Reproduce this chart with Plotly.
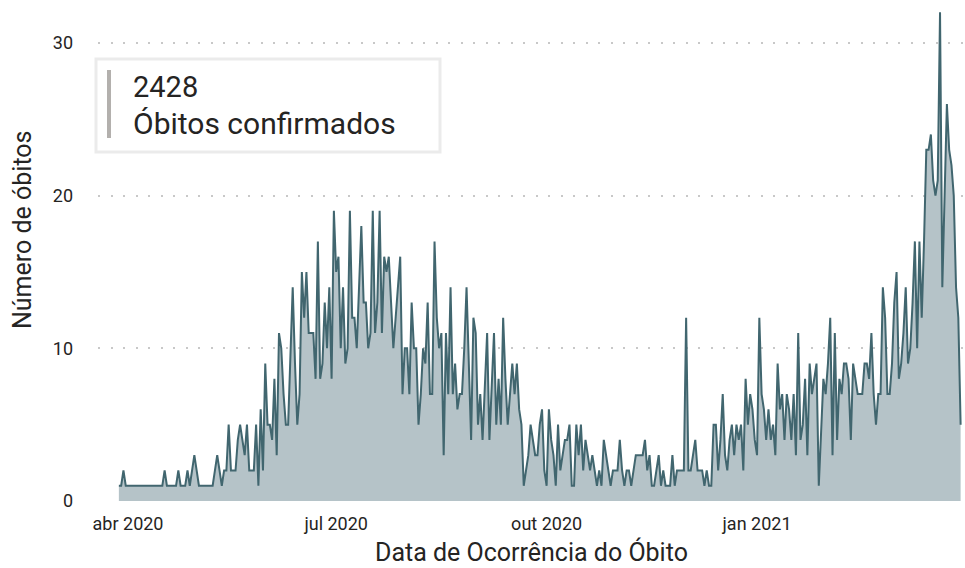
import pandas as pd
import plotly.graph_objects as go

# Daily confirmed deaths, one value per day starting 2020-03-28
start_date = "2020-03-28"
obitos_mar_mai = [1, 1, 2, 1, 1, 1, 1, 1, 1, 1, 1, 1, 1, 1, 1, 1, 1, 1, 1, 1,
                  2, 1, 1, 1, 1, 1, 2, 1, 1, 1, 2, 1, 2, 3, 2, 1, 1, 1, 1, 1,
                  1, 1, 2, 3, 2, 1, 2, 2, 5]
obitos_mai_jul = [2, 2, 2, 4, 5, 4, 3, 5, 2, 2, 2, 5, 1, 6, 2, 9, 5, 5, 4, 8,
                  3, 11, 10, 7, 5, 5, 9, 14, 9, 5, 7, 15, 12, 15, 11, 11, 11, 8, 17, 8,
                  9, 13, 10, 14, 8, 19, 15]
obitos_jul_ago = [16, 10, 14, 9, 10, 19, 12, 12, 10, 14, 18, 13, 13, 10, 11, 19, 11, 13, 19, 11,
                  16, 15, 16, 13, 10, 12, 14, 16, 7, 10, 10, 7, 13, 10, 10, 5, 7, 10, 9, 13,
                  7, 7, 17, 12, 10, 11]
obitos_ago_out = [3, 11, 7, 14, 7, 9, 6, 7, 7, 10, 14, 9, 4, 12, 11, 5, 7, 4, 8, 11,
                  4, 8, 11, 5, 8, 5, 12, 8, 5, 7, 9, 7, 9, 6, 5, 1, 2, 3, 5, 4,
                  3, 3, 5, 6, 2, 1, 6]
obitos_out_nov = [4, 3, 1, 5, 2, 3, 4, 4, 5, 1, 1, 5, 3, 5, 2, 4, 3, 2, 3, 2,
                  1, 2, 1, 4, 3, 2, 1, 2, 2, 2, 4, 2, 1, 2, 2, 1, 2, 3, 3, 3,
                  3, 4, 2, 3, 1]
obitos_nov_jan = [1, 2, 3, 1, 2, 1, 1, 1, 3, 1, 2, 2, 2, 2, 12, 2, 2, 3, 4, 2,
                  2, 2, 1, 2, 1, 1, 5, 5, 2, 4, 7, 3, 2, 4, 5, 3, 5, 4, 5, 2,
                  8, 5, 7, 6, 4, 3, 12, 7]
obitos_jan_fev = [6, 4, 6, 4, 5, 3, 9, 6, 7, 4, 7, 6, 4, 7, 3, 11, 4, 5, 8, 3,
                  9, 7, 8, 9, 1, 5, 8, 7, 9, 12, 3, 11, 4, 8, 7, 9, 9, 8, 4, 9,
                  8, 7, 7, 7]
obitos_fev_mar = [9, 9, 8, 11, 7, 5, 7, 7, 14, 12, 7, 7, 9, 13, 15, 8, 9, 11, 14, 9,
                  10, 13, 17, 10, 17, 12, 17, 23, 23, 24, 21, 20, 21, 32, 14, 20, 26, 23, 22, 20,
                  14, 12, 5]

tick_dates = ["2020-04-01", "2020-07-01", "2020-10-01", "2021-01-01"]
tick_labels = ["abr 2020", "jul 2020", "out 2020", "jan 2021"]
y_ticks = [0, 10, 20, 30]
total_text = "2428"
kpi_label = "Óbitos confirmados"

values = (obitos_mar_mai + obitos_mai_jul + obitos_jul_ago + obitos_ago_out +
          obitos_out_nov + obitos_nov_jan + obitos_jan_fev + obitos_fev_mar)
dates = pd.date_range(start_date, periods=len(values), freq="D")

FONT = "Roboto, 'Noto Sans', sans-serif"
TXT = "#252423"

fig = go.Figure()
fig.add_trace(go.Scatter(
    x=dates, y=values, mode="lines",
    line=dict(color="#41666f", width=2),
    fill="tozeroy", fillcolor="#b5c3c8",
    hoverinfo="x+y",
))

W, H = 965, 568
L, R, T, B = 98, 0, 5, 67
pw, ph = W - L - R, H - T - B

def px(x):
    return (x - L) / pw

def py(y):
    return (H - B - y) / ph

fig.update_layout(
    width=W, height=H,
    margin=dict(l=L, r=R, t=T, b=B),
    paper_bgcolor="white", plot_bgcolor="white",
    showlegend=False,
    font=dict(family=FONT, color=TXT),
    xaxis=dict(
        type="date",
        range=["2020-03-18 21:00", "2021-04-01 22:00"],
        tickvals=tick_dates, ticktext=tick_labels,
        showgrid=False, zeroline=False, showline=False,
        ticks="", ticklabelstandoff=10,
        tickfont=dict(size=18, color=TXT, family=FONT),
    ),
    yaxis=dict(
        range=[0, ph / 15.27],
        tickvals=y_ticks,
        showgrid=True, gridcolor="#c8c8c8", gridwidth=2, griddash="2px,10.5px",
        zeroline=False, showline=False,
        ticks="", ticklabelstandoff=24,
        tickfont=dict(size=18, color=TXT, family=FONT),
    ),
    shapes=[
        dict(type="rect", xref="paper", yref="paper",
             x0=px(96), x1=px(440), y0=py(152), y1=py(59),
             fillcolor="white", line=dict(color="#ebebeb", width=3), layer="above"),
        dict(type="rect", xref="paper", yref="paper",
             x0=px(107), x1=px(111), y0=py(138), y1=py(70),
             fillcolor="#b3b0ad", line=dict(width=0), layer="above"),
    ],
    annotations=[
        dict(text=total_text, xref="paper", yref="paper", x=px(131), y=py(87),
             xanchor="left", yanchor="middle", showarrow=False,
             font=dict(size=29, color=TXT, family=FONT)),
        dict(text=kpi_label, xref="paper", yref="paper", x=px(131), y=py(123),
             xanchor="left", yanchor="middle", showarrow=False,
             font=dict(size=30, color=TXT, family=FONT)),
        dict(text="Data de Ocorrência do Óbito", xref="paper", yref="paper",
             x=px(531), y=py(552), xanchor="center", yanchor="middle", showarrow=False,
             font=dict(size=25, color=TXT, family=FONT)),
        dict(text="Número de óbitos", xref="paper", yref="paper",
             x=px(22), y=py(230), xanchor="center", yanchor="middle", showarrow=False,
             textangle=-90, font=dict(size=25, color=TXT, family=FONT)),
    ],
)

fig.write_html(
    "out.html",
    config={"displayModeBar": False},
    post_script="document.body.style.margin='0';document.body.style.overflow='hidden';",
)
